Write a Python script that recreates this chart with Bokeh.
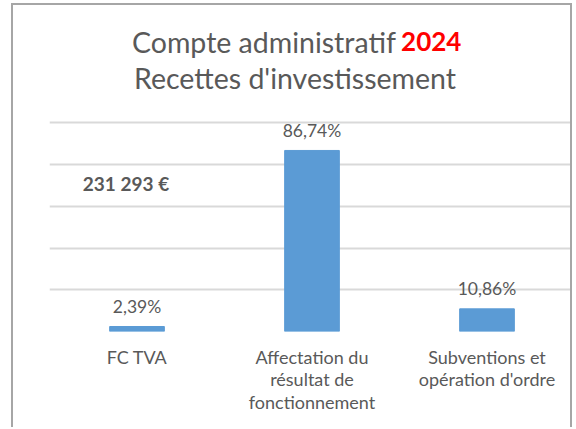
from bokeh.plotting import figure
from bokeh.models import ColumnDataSource, LabelSet, Label, FactorRange, Range1d, FixedTicker
from bokeh.embed import file_html
from bokeh.resources import INLINE
from bokeh.core.properties import value

# ---- data ----
categories = ["FC TVA", "Affectation du\nrésultat de\nfonctionnement", "Subventions et\nopération d'ordre"]
shares = [2.39, 86.74, 10.86]
share_labels = [f"{v:.2f}".replace(".", ",") + "%" for v in shares]
total_text = "231 293 €"
title_main = "Compte administratif"
title_year = "2024"
title_sub = "Recettes d'investissement"
grid_ticks = [0, 20, 40, 60, 80, 100]

GRAY = "#595959"
FONT = "Lato"
W, H = 561, 424

p = figure(width=W, height=H, output_backend="svg", toolbar_location=None,
           x_range=FactorRange(factors=categories), y_range=Range1d(0, 156.2),
           y_axis_location=None,
           min_border_left=36, min_border_right=0, min_border_top=0, min_border_bottom=98)
p.styles = {"margin-left": "11px", "margin-top": "3px",
            "border-left": "2px solid #a6a6a6", "border-top": "2px solid #a6a6a6",
            "border-right": "2px solid #a6a6a6"}
p.outline_line_color = None
p.background_fill_color = "white"
p.border_fill_color = "white"

src = ColumnDataSource(dict(cat=categories, share=shares, lab=share_labels))
p.vbar(x="cat", top="share", width=0.3125, source=src, fill_color="#5b9bd5", line_color="#5b9bd5")

p.add_layout(LabelSet(x="cat", y="share", text="lab", source=src, y_offset=20,
                      text_align="center", text_baseline="middle",
                      text_font=value(FONT), text_font_size="17.5px", text_color=GRAY))

p.xgrid.grid_line_color = None
p.ygrid.ticker = FixedTicker(ticks=grid_ticks)
p.ygrid.grid_line_color = "#d9d9d9"
p.ygrid.grid_line_width = 2

ax = p.xaxis[0]
ax.axis_line_color = None
ax.major_tick_line_color = None
ax.minor_tick_line_color = None
ax.major_tick_out = 0
ax.major_label_standoff = 14
ax.major_label_text_font = FONT
ax.major_label_text_font_size = "18px"
ax.major_label_text_color = GRAY
ax.major_label_text_line_height = 1.04

# titles and total annotation
p.add_layout(Label(x=1.98, y=138.8, text=title_main, text_align="right", text_baseline="middle",
                   text_font=FONT, text_font_size="28.5px", text_color=GRAY))
p.add_layout(Label(x=2.009, y=138.8, text=title_year, text_align="left", text_baseline="middle",
                   text_font=FONT, text_font_size="26px", text_font_style="bold", text_color="#ff0000"))
p.add_layout(Label(x=1.403, y=121.6, text=title_sub, text_align="center", text_baseline="middle",
                   text_font=FONT, text_font_size="28.5px", text_color=GRAY))
p.add_layout(Label(x=0.437, y=70.9, text=total_text, text_align="center", text_baseline="middle",
                   text_font=FONT, text_font_size="19px", text_font_style="bold", text_color=GRAY))

open("out.html", "w").write(file_html(p, INLINE))
